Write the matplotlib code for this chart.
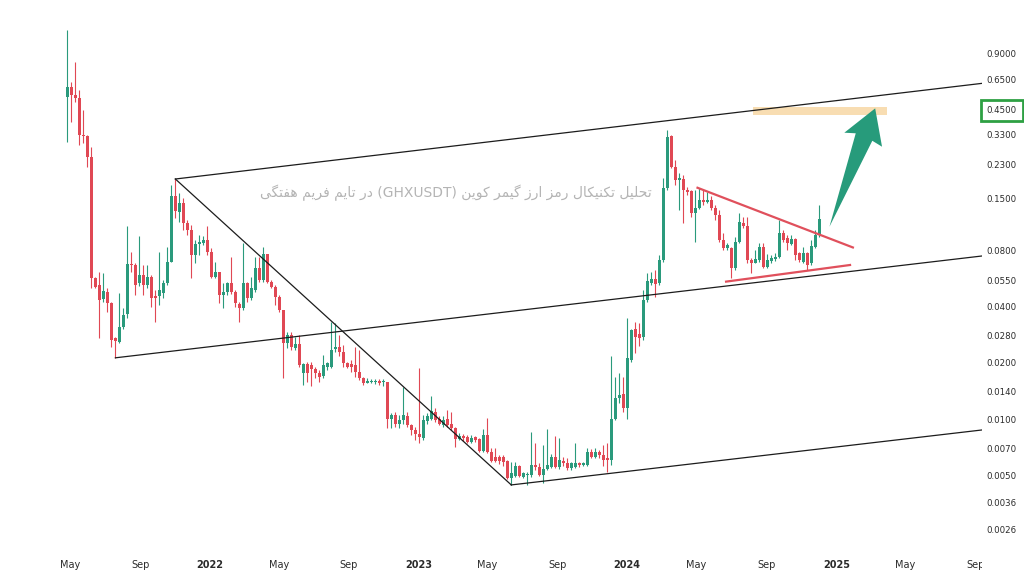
import numpy as np
import pandas as pd
import matplotlib
matplotlib.use('Agg')
import matplotlib.pyplot as plt
import matplotlib.dates as mdates
from matplotlib.ticker import NullLocator
from matplotlib.transforms import Bbox, TransformedBbox

# weekly GHXUSDT candles, first week 2021-04-26
first_week = '2021-04-26'
opens = [0.524, 0.593, 0.537, 0.518, 0.33, 0.323, 0.251, 0.0568, 0.0521, 0.0438,
         0.048, 0.0417, 0.0272, 0.0258, 0.0311, 0.0363, 0.0677, 0.0666, 0.0534, 0.0589,
         0.0521, 0.0575, 0.0457, 0.0457, 0.0472, 0.0534, 0.0691, 0.1555, 0.1283, 0.143,
         0.1116, 0.1024, 0.0753, 0.0863, 0.0872, 0.0906, 0.0781, 0.0575, 0.0612, 0.0461,
         0.0478, 0.0534, 0.048, 0.0413, 0.0393, 0.0534, 0.0444, 0.049, 0.0643, 0.0554,
         0.0766, 0.0543, 0.0508, 0.045, 0.0383, 0.0254, 0.0282, 0.0239, 0.0252, 0.0176,
         0.0197, 0.0195, 0.0185, 0.0176, 0.017, 0.0191, 0.0191, 0.0237, 0.0243, 0.023,
         0.0199, 0.0197, 0.0195, 0.0179, 0.0166, 0.0157, 0.0158, 0.0158, 0.016, 0.0158,
         0.0158, 0.0101, 0.0106, 0.0094, 0.0099, 0.0104, 0.0093, 0.00878, 0.00836, 0.00794,
         0.0098, 0.0101, 0.011, 0.0101, 0.0093, 0.01, 0.0095, 0.009, 0.00787, 0.00816,
         0.00805, 0.00761, 0.00805, 0.00787, 0.0068, 0.00826, 0.00671, 0.00627, 0.00627, 0.00627,
         0.006, 0.00487, 0.00499, 0.00564, 0.00494, 0.00503, 0.00503, 0.00571, 0.00559, 0.00505,
         0.00541, 0.00559, 0.00627, 0.00555, 0.006, 0.00586, 0.00548, 0.00555, 0.00586, 0.00571,
         0.00571, 0.00671, 0.00632, 0.00671, 0.00646, 0.00621, 0.00608, 0.0101, 0.013, 0.0137,
         0.0115, 0.0207, 0.0302, 0.0285, 0.0275, 0.0433, 0.0534, 0.0559, 0.0534, 0.0708,
         0.1716, 0.3248, 0.222, 0.1892, 0.1908, 0.1674, 0.166, 0.1256, 0.1338, 0.148,
         0.145, 0.148, 0.1338, 0.1231, 0.0906, 0.0818, 0.0818, 0.0643, 0.0888, 0.1116,
         0.1076, 0.0708, 0.0684, 0.0708, 0.0831, 0.0652, 0.0701, 0.0714, 0.0731, 0.0985,
         0.0925, 0.0863, 0.0914, 0.0775, 0.0691, 0.0775, 0.068, 0.0831, 0.0963]
highs = [1.19, 0.63, 0.806, 0.571, 0.447, 0.329, 0.284, 0.0577, 0.0612, 0.0604,
         0.0502, 0.0424, 0.0275, 0.0472, 0.0393, 0.1076, 0.0781, 0.068, 0.0951, 0.0666,
         0.0666, 0.0589, 0.049, 0.0781, 0.0554, 0.0831, 0.178, 0.1915, 0.1613, 0.1517,
         0.1158, 0.1089, 0.0906, 0.0963, 0.0951, 0.1076, 0.0824, 0.0688, 0.0612, 0.0534,
         0.0543, 0.0739, 0.049, 0.0424, 0.0872, 0.0543, 0.0575, 0.0735, 0.0739, 0.0831,
         0.0766, 0.0554, 0.0521, 0.0461, 0.0383, 0.0294, 0.0294, 0.0275, 0.0282, 0.0199,
         0.0203, 0.0203, 0.0191, 0.0183, 0.0221, 0.0203, 0.0331, 0.0327, 0.0282, 0.0249,
         0.0203, 0.0207, 0.0243, 0.0235, 0.0168, 0.0166, 0.0164, 0.0164, 0.0164, 0.0164,
         0.0158, 0.0108, 0.011, 0.0106, 0.0148, 0.011, 0.0095, 0.0091, 0.0187, 0.0106,
         0.0108, 0.0133, 0.0115, 0.0104, 0.0104, 0.0112, 0.011, 0.0091, 0.00843, 0.00836,
         0.00826, 0.00826, 0.00816, 0.00794, 0.00886, 0.0102, 0.00703, 0.00703, 0.00646, 0.00646,
         0.00608, 0.00593, 0.00593, 0.00571, 0.00526, 0.00526, 0.00861, 0.00745, 0.00586, 0.0073,
         0.00886, 0.00655, 0.00816, 0.00794, 0.00632, 0.00621, 0.00593, 0.00752, 0.00593, 0.00593,
         0.00703, 0.00695, 0.00703, 0.00687, 0.0073, 0.00745, 0.0217, 0.0168, 0.0176, 0.0168,
         0.0347, 0.0304, 0.0331, 0.0327, 0.049, 0.0604, 0.0612, 0.0627, 0.0753, 0.1932,
         0.3496, 0.3288, 0.2419, 0.205, 0.2012, 0.174, 0.1674, 0.1674, 0.1716, 0.1674,
         0.164, 0.1555, 0.1392, 0.1309, 0.0985, 0.0872, 0.0831, 0.0941, 0.1256, 0.1206,
         0.1206, 0.0726, 0.0801, 0.0872, 0.0872, 0.0766, 0.0753, 0.077, 0.1158, 0.1024,
         0.0963, 0.0963, 0.0925, 0.0781, 0.0831, 0.0781, 0.0906, 0.1024, 0.1392]
lows = [0.301, 0.385, 0.493, 0.291, 0.298, 0.222, 0.0502, 0.0502, 0.0272, 0.0424,
        0.0374, 0.0243, 0.0213, 0.0254, 0.0304, 0.0347, 0.0612, 0.0461, 0.0516, 0.0461,
        0.0502, 0.0398, 0.0331, 0.0408, 0.0444, 0.0521, 0.0688, 0.1186, 0.113, 0.1024,
        0.0963, 0.0568, 0.068, 0.0753, 0.0852, 0.0753, 0.0568, 0.0568, 0.0417, 0.0393,
        0.0461, 0.0465, 0.0398, 0.0331, 0.0383, 0.0424, 0.0433, 0.048, 0.0543, 0.0543,
        0.0534, 0.0502, 0.0408, 0.0374, 0.0166, 0.0239, 0.0235, 0.0235, 0.0191, 0.0153,
        0.0158, 0.015, 0.0166, 0.0158, 0.0166, 0.0183, 0.0187, 0.023, 0.0217, 0.0191,
        0.0187, 0.0179, 0.0168, 0.0162, 0.0153, 0.0156, 0.0156, 0.0155, 0.0153, 0.0151,
        0.009, 0.009, 0.0091, 0.009, 0.0095, 0.0091, 0.00826, 0.00777, 0.00745, 0.00777,
        0.0095, 0.0099, 0.0097, 0.0093, 0.0091, 0.0091, 0.00878, 0.00712, 0.00777, 0.0077,
        0.00752, 0.00752, 0.00761, 0.00671, 0.00671, 0.00663, 0.00593, 0.0059, 0.0058, 0.00564,
        0.00481, 0.00447, 0.00494, 0.00494, 0.00487, 0.00447, 0.00494, 0.00537, 0.00499, 0.0046,
        0.00537, 0.00548, 0.00548, 0.00541, 0.00564, 0.00537, 0.00537, 0.00548, 0.00559, 0.00564,
        0.00564, 0.00621, 0.00621, 0.00621, 0.00564, 0.00526, 0.00571, 0.0099, 0.0122, 0.011,
        0.0101, 0.0203, 0.0226, 0.0246, 0.0265, 0.0424, 0.0521, 0.045, 0.0521, 0.0691,
        0.1674, 0.2187, 0.178, 0.1309, 0.1116, 0.1574, 0.1206, 0.0888, 0.132, 0.1392,
        0.1426, 0.1309, 0.1158, 0.0888, 0.0801, 0.0801, 0.0568, 0.0627, 0.0872, 0.105,
        0.068, 0.0601, 0.068, 0.0691, 0.0643, 0.0643, 0.068, 0.0697, 0.0726, 0.0888,
        0.0801, 0.0852, 0.0708, 0.0691, 0.068, 0.0627, 0.0666, 0.0818, 0.0943]
closes = [0.593, 0.537, 0.518, 0.329, 0.325, 0.251, 0.0568, 0.0508, 0.0433, 0.0484,
          0.0417, 0.0265, 0.0262, 0.0311, 0.036, 0.0674, 0.0666, 0.0521, 0.0589, 0.0521,
          0.0575, 0.0444, 0.0444, 0.049, 0.0534, 0.0691, 0.1555, 0.1293, 0.1426, 0.1116,
          0.1024, 0.0753, 0.0863, 0.0883, 0.0906, 0.0781, 0.0575, 0.0612, 0.0461, 0.048,
          0.0534, 0.048, 0.0417, 0.0393, 0.0534, 0.0444, 0.0502, 0.0643, 0.0554, 0.0766,
          0.0543, 0.0508, 0.045, 0.0383, 0.0254, 0.0282, 0.0243, 0.0252, 0.0195, 0.0197,
          0.0176, 0.0185, 0.0176, 0.0168, 0.0195, 0.0199, 0.0235, 0.0243, 0.023, 0.0199,
          0.0191, 0.019, 0.0179, 0.0166, 0.0156, 0.016, 0.016, 0.016, 0.0157, 0.016,
          0.0101, 0.0106, 0.0095, 0.0099, 0.0106, 0.0093, 0.00878, 0.00836, 0.00805, 0.0099,
          0.0104, 0.0111, 0.0099, 0.0095, 0.0099, 0.0093, 0.009, 0.00787, 0.00816, 0.00794,
          0.00761, 0.00794, 0.00777, 0.0068, 0.00826, 0.00671, 0.006, 0.006, 0.006, 0.00593,
          0.00487, 0.00517, 0.00564, 0.00499, 0.00517, 0.00511, 0.00571, 0.00555, 0.00505, 0.00541,
          0.00571, 0.00627, 0.00555, 0.00608, 0.00584, 0.00548, 0.00584, 0.00584, 0.00571, 0.00584,
          0.00671, 0.00632, 0.00671, 0.00646, 0.00608, 0.00608, 0.0101, 0.013, 0.0135, 0.0115,
          0.0212, 0.03, 0.0275, 0.0272, 0.0433, 0.0547, 0.0559, 0.0527, 0.0708, 0.1716,
          0.3208, 0.222, 0.1892, 0.193, 0.1674, 0.164, 0.1256, 0.1338, 0.148, 0.145,
          0.148, 0.1338, 0.1231, 0.0906, 0.0818, 0.0852, 0.0643, 0.0888, 0.113, 0.1069,
          0.0708, 0.068, 0.0714, 0.0831, 0.0652, 0.0708, 0.0726, 0.0739, 0.0985, 0.0906,
          0.0872, 0.0914, 0.0753, 0.0708, 0.0775, 0.0666, 0.0841, 0.0963, 0.1168]

# price scale labels
yticks = [0.9, 0.65, 0.45, 0.33, 0.23, 0.15, 0.08, 0.055, 0.04, 0.028,
          0.02, 0.014, 0.01, 0.007, 0.005, 0.0036, 0.0026]
xtick_dates = ['2021-05-01', '2021-09-01', '2022-01-01', '2022-05-01', '2022-09-01',
               '2023-01-01', '2023-05-01', '2023-09-01', '2024-01-01', '2024-05-01',
               '2024-09-01', '2025-01-01', '2025-05-01', '2025-09-01']
xtick_labels = ['May', 'Sep', '2022', 'May', 'Sep', '2023', 'May', 'Sep', '2024',
                'May', 'Sep', '2025', 'May', 'Sep']

# drawn trend lines (date, price)
channel_top = [('2021-11-01', 0.1915), ('2025-09-13', 0.62)]
channel_mid = [('2021-07-19', 0.0213), ('2025-09-13', 0.0744)]
channel_low = [('2023-06-12', 0.00447), ('2025-09-13', 0.00878)]
downtrend = [('2021-11-01', 0.1915), ('2023-06-12', 0.00447)]
tri_top = [('2024-05-03', 0.172), ('2025-01-30', 0.0826)]
tri_low = [('2024-06-22', 0.0543), ('2025-01-25', 0.0666)]
target_zone = ('2024-08-08', '2025-03-30', 0.42, 0.4617)
arrow = [('2024-12-20', 0.1066), ('2025-02-04', 0.3357), ('2025-01-15', 0.3382),
         ('2025-03-10', 0.456), ('2025-03-22', 0.2848), ('2025-03-05', 0.3063)]

title = 'تحلیل تکنیکال رمز ارز گیمر کوین (GHXUSDT) در تایم فریم هفتگی'

GREEN = '#2a9a7c'
RED = '#e04854'

# Persian letter forms: isolated, final, initial, medial
forms = {
    '\u0627': (0xFE8D, 0xFE8E), '\u062F': (0xFEA9, 0xFEAA),
    '\u0631': (0xFEAD, 0xFEAE), '\u0632': (0xFEAF, 0xFEB0),
    '\u0648': (0xFEED, 0xFEEE),
    '\u062A': (0xFE95, 0xFE96, 0xFE97, 0xFE98), '\u062D': (0xFEA1, 0xFEA2, 0xFEA3, 0xFEA4),
    '\u0641': (0xFED1, 0xFED2, 0xFED3, 0xFED4), '\u06A9': (0xFB8E, 0xFB8F, 0xFB90, 0xFB91),
    '\u06AF': (0xFB92, 0xFB93, 0xFB94, 0xFB95), '\u0644': (0xFEDD, 0xFEDE, 0xFEDF, 0xFEE0),
    '\u0645': (0xFEE1, 0xFEE2, 0xFEE3, 0xFEE4), '\u0646': (0xFEE5, 0xFEE6, 0xFEE7, 0xFEE8),
    '\u0647': (0xFEE9, 0xFEEA, 0xFEEB, 0xFEEC), '\u06CC': (0xFBFC, 0xFBFD, 0xFBFE, 0xFBFF),
}


def shape(text):
    # join letters and return in visual (left to right) order
    out = []
    for i, ch in enumerate(text):
        f = forms.get(ch)
        if f is None:
            out.append(ch)
            continue
        prev = text[i - 1] if i > 0 else ''
        nxt = text[i + 1] if i + 1 < len(text) else ''
        jp = len(forms.get(prev, ())) == 4
        jn = len(f) == 4 and nxt in forms
        k = 3 if (jp and jn) else 1 if jp else 2 if jn else 0
        out.append(chr(f[k]))
    return ''.join(out)[::-1]


def pts(p):
    return mdates.date2num(pd.to_datetime([d for d, _ in p])), [v for _, v in p]


fig = plt.figure(figsize=(10.24, 5.75), dpi=100)
ax = fig.add_axes([0, 27 / 575, 982 / 1024, 548 / 575])
ax.set_yscale('log')

dates = mdates.date2num(pd.date_range(first_week, periods=len(opens), freq='7D'))
o, h, l, c = map(np.array, (opens, highs, lows, closes))
col = np.where(c >= o, GREEN, RED)
lo = np.minimum(o, c)
hi = np.maximum(np.maximum(o, c), lo * 1.012)
ax.vlines(dates, l, h, colors=col, linewidth=0.8, zorder=2)
ax.bar(dates, hi - lo, bottom=lo, width=5.2, color=col, linewidth=0, zorder=3)

for line in (channel_top, channel_mid, channel_low, downtrend):
    ax.plot(*pts(line), color='#1c1c1c', linewidth=0.9, zorder=4)
for line in (tri_top, tri_low):
    ax.plot(*pts(line), color='#e0505c', linewidth=1.6, zorder=4)

d0, d1, z0, z1 = target_zone
ax.fill_between(mdates.date2num(pd.to_datetime([d0, d1])), z0, z1,
                color='#f4c77f', alpha=0.6, linewidth=0, zorder=1)
ax.fill(*pts(arrow), color='#279b7b', linewidth=0, zorder=5)

a, b = title.split(' (GHXUSDT) ')
ax.text(0.464, 0.648, shape(b) + ' (GHXUSDT) ' + shape(a), transform=ax.transAxes,
        ha='center', va='center', color='#b4b4b4', fontsize=10, family='DejaVu Sans')

ax.set_xlim(mdates.date2num(pd.Timestamp('2020-12-29')), mdates.date2num(pd.Timestamp('2025-09-13')))
ax.set_ylim(0.00206, 1.726)

ax.yaxis.tick_right()
ax.set_yticks(yticks)
ax.set_yticklabels(['%.4f' % v for v in yticks])
ax.yaxis.set_minor_locator(NullLocator())
ax.tick_params(axis='y', length=0, pad=3.5, labelsize=6.2, labelcolor='#2b2b2b')
ax.set_xticks(mdates.date2num(pd.to_datetime(xtick_dates)))
ax.set_xticklabels(xtick_labels)
ax.tick_params(axis='x', length=0, pad=9, labelsize=7, labelcolor='#2b2b2b')
for s in ax.spines.values():
    s.set_visible(False)

clip = TransformedBbox(Bbox([[0, -0.2], [1, 1]]), ax.transAxes)
for t in ax.get_xticklabels():
    if t.get_text().isdigit():
        t.set_fontweight('bold')
    t.set_clip_box(clip)
    t.set_clip_on(True)
for t in ax.get_yticklabels():
    if t.get_text() == '0.4500':
        t.set_bbox(dict(boxstyle='square,pad=0.65', facecolor='white',
                        edgecolor='#2ea043', linewidth=2.0))

fig.savefig('out.png', dpi=100)
